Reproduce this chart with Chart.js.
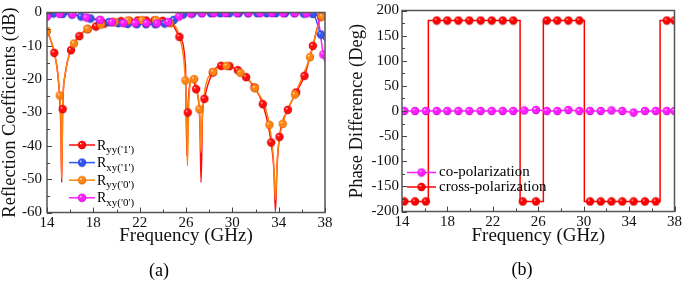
<!DOCTYPE html>
<html><head><meta charset="utf-8">
<script src="https://cdn.jsdelivr.net/npm/chart.js@4.4.1/dist/chart.umd.min.js"></script>
<style>
html,body{margin:0;padding:0;background:#fff;}
#wrap{position:relative;width:685px;height:281px;overflow:hidden;}
canvas{position:absolute;top:0;}
#ca{left:0;width:340px;height:281px;}
#cb{left:340px;width:345px;height:281px;}
</style></head><body>
<div id="wrap"><canvas id="ca" width="340" height="281"></canvas><canvas id="cb" width="345" height="281"></canvas></div>
<script>
// ---------------- DATA ----------------
const freqTicks = [14, 18, 22, 26, 30, 34, 38];
const reflTicks = [-60, -50, -40, -30, -20, -10, 0];
const phaseTicks = [-200, -150, -100, -50, 0, 50, 100, 150, 200];

// (a) R_yy('1')  (red)  – marker samples
const ryy1Freq = [14.63, 15.35, 16.07, 16.79, 17.51, 18.23, 18.95, 19.67, 20.39, 21.11, 21.83, 22.55, 23.27, 23.99, 24.71, 25.43, 26.15, 26.87, 27.59, 28.31, 29.03, 29.75, 30.47, 31.19, 31.91, 32.63, 33.35, 34.07, 34.79, 35.51, 36.23, 36.95, 37.67];
const ryy1Val = [-12.1, -29.0, -11.3, -7.1, -5.0, -4.2, -3.3, -2.9, -2.6, -2.5, -2.4, -2.4, -2.4, -2.5, -3.0, -7.3, -30.0, -23.0, -25.9, -18.0, -16.0, -16.1, -17.3, -19.4, -22.5, -27.5, -39.0, -37.3, -29.2, -24.0, -19.0, -10.0, -1.2];
// extra trace points (ends and resonance dips)
const ryy1TraceFreq = [14.0, 15.0, 15.2, 15.27, 15.55, 25.95, 26.08, 26.5, 27.2, 27.3, 27.42, 33.6, 33.72, 33.85, 38.0];
const ryy1TraceVal = [-5.2, -21, -35, -51, -19, -16, -43, -20.5, -33, -51, -31, -48, -59.7, -47, -0.8];

// (a) R_xy('1')  (blue)
const rxy1Freq = [14.55, 15.35, 16.15, 16.95, 17.75, 18.55, 19.35, 20.15, 20.95, 21.75, 22.55, 23.35, 24.15, 24.95, 25.75, 26.55, 27.35, 28.15, 28.95, 29.75, 30.55, 31.35, 32.15, 32.95, 33.75, 34.55, 35.35, 36.15, 36.95, 37.65];
const rxy1Val = [-0.3, -0.4, -0.6, -1.2, -1.8, -2.4, -2.9, -3.2, -3.4, -3.5, -3.5, -3.5, -3.3, -2.2, -0.6, -0.3, -0.2, -0.2, -0.2, -0.2, -0.2, -0.2, -0.2, -0.2, -0.2, -0.2, -0.2, -0.3, -0.4, -6.6];
const rxy1TraceFreq = [14.0, 38.0];
const rxy1TraceVal = [-0.2, -8.5];

// (a) R_yy('0')  (orange)
const ryy0Freq = [14.0, 15.1, 16.33, 17.5, 18.67, 19.84, 21.0, 22.2, 23.4, 24.6, 25.95, 26.7, 27.15, 28.36, 29.5, 30.7, 31.96, 33.2, 34.35, 35.4, 36.7, 37.72];
const ryy0Val = [-5.6, -24.9, -9.3, -4.9, -3.6, -2.8, -2.4, -2.3, -2.3, -3.2, -20.4, -20.0, -29.0, -17.8, -16.0, -18.1, -22.7, -33.7, -33.4, -24.6, -13.4, -1.2];
const ryy0TraceFreq = [14.63, 15.22, 15.27, 15.35, 15.6, 25.4, 26.05, 26.12, 26.25, 26.55, 27.25, 27.3, 27.4, 27.6, 33.55, 33.72, 33.9, 38.0];
const ryy0TraceVal = [-12.0, -35, -49.5, -29, -18, -7, -30, -46, -26, -19.6, -36, -42, -32, -24, -44, -56, -43, -0.8];

// (a) R_xy('0')  (magenta)
const rxy0Freq = [14.0, 15.1, 16.2, 17.4, 18.6, 19.6, 20.6, 21.6, 22.6, 23.5, 24.45, 25.4, 26.4, 27.4, 28.4, 29.4, 30.4, 31.4, 32.4, 33.4, 34.4, 35.4, 36.4, 37.85];
const rxy0Val = [-1.2, -0.4, -0.5, -1.5, -2.2, -2.9, -3.2, -3.2, -3.2, -3.3, -2.9, -1.2, -0.3, -0.2, -0.2, -0.2, -0.2, -0.2, -0.2, -0.2, -0.2, -0.2, -0.3, -12.6];
const rxy0TraceFreq = [37.3, 38.0];
const rxy0TraceVal = [-0.8, -15];

// (b) phase difference
const coFreq = [14.2, 15.15, 16.1, 17.06, 17.99, 18.96, 19.93, 20.93, 21.9, 22.87, 23.8, 24.77, 25.8, 26.75, 27.68, 28.65, 29.62, 30.56, 31.5, 32.45, 33.4, 34.4, 35.4, 36.35, 37.32, 38.0];
const coPhase = [0, 0, 0, 0, 0, 0, 0, 0, 0, 0, 0, 1, 2, 0, 0, 2, 0, 0, 0, 1, 0, -3, 0, 0, 0, 0];
const crossFreq = [14.2, 15.15, 16.1, 17.06, 17.99, 18.96, 19.93, 20.93, 21.9, 22.87, 23.8, 24.63, 25.8, 26.75, 27.68, 28.65, 29.62, 30.56, 31.5, 32.45, 33.4, 34.4, 35.4, 36.35, 37.32, 38.0];
const crossPhase = [-180, -180, -180, 180, 180, 180, 180, 180, 180, 180, 180, -180, -180, 180, 180, 180, 180, -180, -180, -180, -180, -180, -180, -180, 180, 180];
const crossLineFreq = [14, 16.32, 16.32, 24.4, 24.4, 26.45, 26.45, 30.06, 30.06, 36.73, 36.73, 38];
const crossLinePhase = [-180, -180, 180, 180, -180, -180, 180, 180, -180, -180, 180, 180];

// ---------------- HELPERS ----------------
const FAM = '"Liberation Serif", "Times New Roman", serif';
Chart.defaults.font.family = FAM;
Chart.defaults.color = '#000';
const MR = 4.2;

function pts(fx, fy) { return fx.map((x, i) => ({x: x, y: fy[i]})); }
function merged(fx, fy, tx, ty) { return pts(fx, fy).concat(pts(tx, ty)).sort((a, b) => a.x - b.x); }

function sphere(color, dark, r) {
  const s = Math.ceil(2 * r + 1);
  const c = document.createElement('canvas');
  c.width = s; c.height = s;
  const g = c.getContext('2d');
  const cx = s / 2, cy = s / 2;
  const grd = g.createRadialGradient(cx - r * 0.35, cy - r * 0.4, 0, cx, cy, r);
  grd.addColorStop(0, '#ffffff');
  grd.addColorStop(0.3, color);
  grd.addColorStop(0.8, color);
  grd.addColorStop(1, dark);
  g.fillStyle = grd;
  g.beginPath(); g.arc(cx, cy, r, 0, Math.PI * 2); g.fill();
  return c;
}

const COL = {
  red: ['#ff0d0d', '#b00000'],
  blue: ['#2f55f5', '#1a2fa0'],
  orange: ['#ff8412', '#c05a00'],
  magenta: ['#ff1eff', '#b000b0']
};

function lineDS(data, color, order) {
  return {data: data, borderColor: color, borderWidth: 1.5, pointRadius: 0, pointHoverRadius: 0,
    fill: false, cubicInterpolationMode: 'monotone', order: order};
}
function markDS(data, col, order) {
  return {data: data, showLine: false, pointStyle: sphere(col[0], col[1], MR), pointRadius: MR,
    pointHoverRadius: MR, borderColor: col[0], backgroundColor: col[0], order: order};
}

const framePlugin = {
  id: 'frame',
  afterDatasetsDraw(chart) {
    const {ctx, chartArea: a, scales} = chart;
    ctx.save();
    ctx.strokeStyle = '#555'; ctx.lineWidth = 1.5;
    ctx.strokeRect(a.left, a.top, a.right - a.left, a.bottom - a.top);
    ctx.strokeStyle = '#444'; ctx.lineWidth = 1;
    const xs = scales.x, ys = scales.y;
    const xt = xs.ticks.map(t => t.value), yt = ys.ticks.map(t => t.value);
    const mids = arr => arr.slice(1).map((v, i) => (v + arr[i]) / 2);
    ctx.beginPath();
    xt.forEach(v => { const p = Math.round(xs.getPixelForValue(v)) + 0.5; ctx.moveTo(p, a.bottom); ctx.lineTo(p, a.bottom - 5); });
    mids(xt).forEach(v => { const p = Math.round(xs.getPixelForValue(v)) + 0.5; ctx.moveTo(p, a.bottom); ctx.lineTo(p, a.bottom - 3); });
    yt.forEach(v => { const p = Math.round(ys.getPixelForValue(v)) + 0.5; ctx.moveTo(a.left, p); ctx.lineTo(a.left + 5, p); });
    mids(yt).forEach(v => { const p = Math.round(ys.getPixelForValue(v)) + 0.5; ctx.moveTo(a.left, p); ctx.lineTo(a.left + 3, p); });
    ctx.stroke();
    ctx.restore();
  }
};

function legendPlugin(items, geo, panel) {
  return {
    id: 'customLegend',
    afterDraw(chart) {
      const ctx = chart.ctx;
      ctx.save();
      items.forEach((it, i) => {
        const y = geo.y0 + i * geo.dy;
        ctx.strokeStyle = it.col[0]; ctx.lineWidth = 1.5;
        ctx.beginPath(); ctx.moveTo(geo.x1, y); ctx.lineTo(geo.x2, y); ctx.stroke();
        const img = sphere(it.col[0], it.col[1], MR);
        ctx.drawImage(img, geo.xm - img.width / 2, y - img.height / 2);
        ctx.fillStyle = '#000';
        ctx.textAlign = 'left';
        if (it.sub) {
          ctx.font = '14px ' + FAM;
          ctx.textBaseline = 'alphabetic';
          ctx.fillText(it.label, geo.xt, y + 4.6);
          const w = ctx.measureText(it.label).width;
          ctx.font = '11px ' + FAM;
          ctx.fillText(it.sub, geo.xt + w, y + 8);
        } else {
          ctx.font = '15px ' + FAM;
          ctx.textBaseline = 'middle';
          ctx.fillText(it.label, geo.xt, y);
        }
      });
      ctx.font = '18px ' + FAM;
      ctx.textAlign = 'center'; ctx.textBaseline = 'middle';
      ctx.fillText(panel.text, panel.x, panel.y);
      ctx.restore();
    }
  };
}

function axes(opts) {
  return {
    x: {
      type: 'linear', min: 14, max: 38,
      afterBuildTicks: s => { s.ticks = freqTicks.map(v => ({value: v})); },
      afterFit: s => { s.height = 40; },
      grid: {display: false, drawTicks: false}, border: {display: false},
      ticks: {padding: opts.xPad, font: {family: FAM, size: 15, lineHeight: 1}, color: '#111', maxRotation: 0, autoSkip: false},
      title: {display: true, text: 'Frequency (GHz)', font: {family: FAM, size: 19, lineHeight: 1.2}, padding: {top: 0, bottom: opts.xTitlePad}, color: '#111'}
    },
    y: {
      type: 'linear', min: opts.yMin, max: opts.yMax,
      afterBuildTicks: s => { s.ticks = opts.yTicks.map(v => ({value: v})); },
      afterFit: s => { s.width = opts.yWidth; },
      grid: {display: false, drawTicks: false}, border: {display: false},
      ticks: {padding: opts.yPad, font: {family: FAM, size: 15, lineHeight: 1}, color: '#111', autoSkip: false},
      title: {display: true, text: opts.yTitle, font: {family: FAM, size: 18.5, lineHeight: 1.1}, padding: {top: opts.yTitlePad, bottom: 0}, color: '#111'}
    }
  };
}

// ---------------- CHART (a) ----------------
new Chart(document.getElementById('ca'), {
  type: 'line',
  data: {
    datasets: [
      lineDS(merged(ryy1Freq, ryy1Val, ryy1TraceFreq, ryy1TraceVal), COL.red[0], 18),
      lineDS(merged(rxy1Freq, rxy1Val, rxy1TraceFreq, rxy1TraceVal), COL.blue[0], 17),
      lineDS(merged(ryy0Freq, ryy0Val, ryy0TraceFreq, ryy0TraceVal), COL.orange[0], 16),
      lineDS(merged(rxy0Freq, rxy0Val, rxy0TraceFreq, rxy0TraceVal), COL.magenta[0], 15),
      markDS(pts(ryy1Freq, ryy1Val), COL.red, 4),
      markDS(pts(rxy1Freq, rxy1Val), COL.blue, 3),
      markDS(pts(ryy0Freq, ryy0Val), COL.orange, 2),
      markDS(pts(rxy0Freq, rxy0Val), COL.magenta, 1)
    ]
  },
  options: {
    responsive: false, animation: false, devicePixelRatio: 1,
    layout: {padding: {left: 0, right: 15, top: 7.5, bottom: 28.5}},
    plugins: {legend: {display: false}, tooltip: {enabled: false}},
    scales: axes({xPad: 3.5, xTitlePad: 5, yMin: -60, yMax: 0, yTicks: reflTicks, yWidth: 47, yPad: 5,
      yTitle: 'Reflection Coefficients (dB)', yTitlePad: 0})
  },
  plugins: [framePlugin, legendPlugin([
    {col: COL.red, label: 'R', sub: "yy('1')"},
    {col: COL.blue, label: 'R', sub: "xy('1')"},
    {col: COL.orange, label: 'R', sub: "yy('0')"},
    {col: COL.magenta, label: 'R', sub: "xy('0')"}
  ], {y0: 145, dy: 17.6, x1: 69, x2: 95, xm: 82, xt: 97}, {text: '(a)', x: 159, y: 271})]
});

// ---------------- CHART (b) ----------------
const CO = ['#ff1eff', '#b000b0'];
const CR = ['#ff0000', '#b00000'];
new Chart(document.getElementById('cb'), {
  type: 'line',
  data: {
    datasets: [
      {data: pts(crossLineFreq, crossLinePhase), borderColor: CR[0], borderWidth: 1.5, pointRadius: 0, tension: 0, order: 10},
      lineDS(pts(coFreq, coPhase), CO[0], 9),
      markDS(pts(crossFreq, crossPhase), CR, 2),
      markDS(pts(coFreq, coPhase), CO, 1)
    ]
  },
  options: {
    responsive: false, animation: false, devicePixelRatio: 1,
    layout: {padding: {left: 0, right: 10, top: 7, bottom: 29.5}},
    plugins: {legend: {display: false}, tooltip: {enabled: false}},
    scales: axes({xPad: 3, xTitlePad: 4, yMin: -200, yMax: 200, yTicks: phaseTicks, yWidth: 62, yPad: 3,
      yTitle: 'Phase Difference (Deg)', yTitlePad: 7.3})
  },
  plugins: [framePlugin, legendPlugin([
    {col: CO, label: 'co-polarization'},
    {col: CR, label: 'cross-polarization'}
  ], {y0: 172.5, dy: 14.5, x1: 67, x2: 96, xm: 81.5, xt: 99}, {text: '(b)', x: 182, y: 270.5})]
});
</script>
</body></html>
